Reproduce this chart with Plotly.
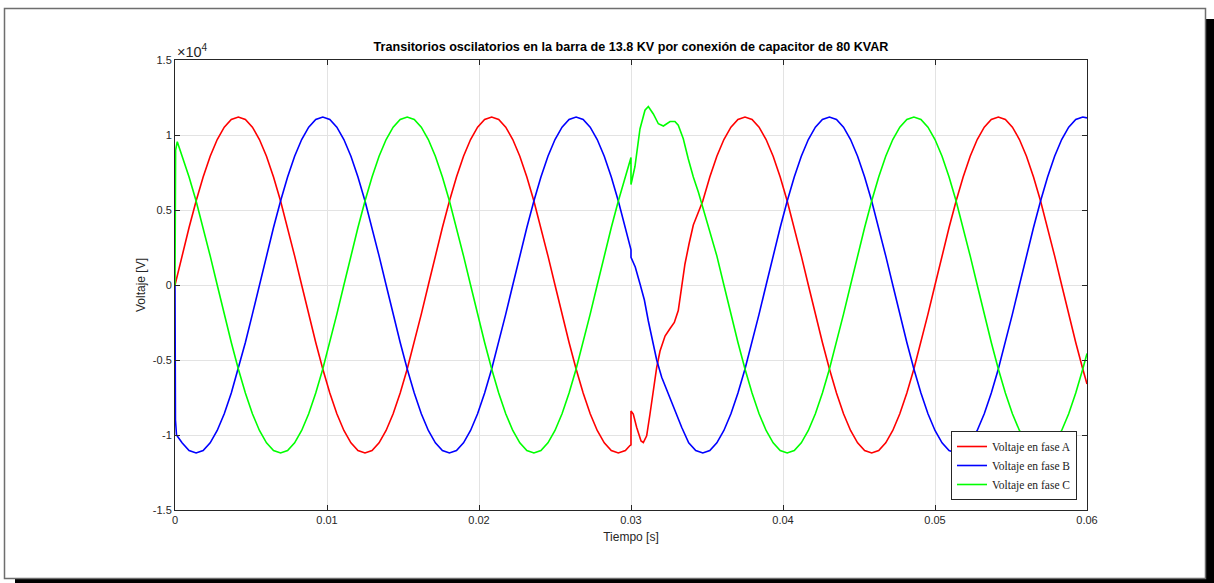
import numpy as np
import plotly.graph_objects as go

# ---------------- data (voltages in units of 10^4 V) ----------------
# sampling instants of the steady-state traces: 36 samples per 60 Hz cycle
N_SAMPLES = 130
t_grid = np.arange(N_SAMPLES) / 2160.0

vA_grid = [
    0, 0.194, 0.383, 0.56, 0.72, 0.858, 0.97, 1.052, 1.103, 1.12, 1.103, 1.052,
    0.97, 0.858, 0.72, 0.56, 0.383, 0.194, 0, -0.194, -0.383, -0.56, -0.72, -0.858,
    -0.97, -1.052, -1.103, -1.12, -1.103, -1.052, -0.97, -0.858, -0.72, -0.56, -0.383, -0.194,
    0, 0.194, 0.383, 0.56, 0.72, 0.858, 0.97, 1.052, 1.103, 1.12, 1.103, 1.052,
    0.97, 0.858, 0.72, 0.56, 0.383, 0.194, 0, -0.194, -0.383, -0.56, -0.72, -0.858,
    -0.97, -1.052, -1.103, -1.12, -1.103, -1.052, -0.97, -0.858, -0.72, -0.56, -0.383, -0.194,
    0, 0.194, 0.383, 0.56, 0.72, 0.858, 0.97, 1.052, 1.103, 1.12, 1.103, 1.052,
    0.97, 0.858, 0.72, 0.56, 0.383, 0.194, 0, -0.194, -0.383, -0.56, -0.72, -0.858,
    -0.97, -1.052, -1.103, -1.12, -1.103, -1.052, -0.97, -0.858, -0.72, -0.56, -0.383, -0.194,
    0, 0.194, 0.383, 0.56, 0.72, 0.858, 0.97, 1.052, 1.103, 1.12, 1.103, 1.052,
    0.97, 0.858, 0.72, 0.56, 0.383, 0.194, 0, -0.194, -0.383, -0.56,
]
vB_grid = [
    -0.97, -1.052, -1.103, -1.12, -1.103, -1.052, -0.97, -0.858, -0.72, -0.56, -0.383, -0.194,
    0, 0.194, 0.383, 0.56, 0.72, 0.858, 0.97, 1.052, 1.103, 1.12, 1.103, 1.052,
    0.97, 0.858, 0.72, 0.56, 0.383, 0.194, 0, -0.194, -0.383, -0.56, -0.72, -0.858,
    -0.97, -1.052, -1.103, -1.12, -1.103, -1.052, -0.97, -0.858, -0.72, -0.56, -0.383, -0.194,
    0, 0.194, 0.383, 0.56, 0.72, 0.858, 0.97, 1.052, 1.103, 1.12, 1.103, 1.052,
    0.97, 0.858, 0.72, 0.56, 0.383, 0.194, 0, -0.194, -0.383, -0.56, -0.72, -0.858,
    -0.97, -1.052, -1.103, -1.12, -1.103, -1.052, -0.97, -0.858, -0.72, -0.56, -0.383, -0.194,
    0, 0.194, 0.383, 0.56, 0.72, 0.858, 0.97, 1.052, 1.103, 1.12, 1.103, 1.052,
    0.97, 0.858, 0.72, 0.56, 0.383, 0.194, 0, -0.194, -0.383, -0.56, -0.72, -0.858,
    -0.97, -1.052, -1.103, -1.12, -1.103, -1.052, -0.97, -0.858, -0.72, -0.56, -0.383, -0.194,
    0, 0.194, 0.383, 0.56, 0.72, 0.858, 0.97, 1.052, 1.103, 1.12,
]
vC_grid = [
    0.97, 0.858, 0.72, 0.56, 0.383, 0.194, 0, -0.194, -0.383, -0.56, -0.72, -0.858,
    -0.97, -1.052, -1.103, -1.12, -1.103, -1.052, -0.97, -0.858, -0.72, -0.56, -0.383, -0.194,
    0, 0.194, 0.383, 0.56, 0.72, 0.858, 0.97, 1.052, 1.103, 1.12, 1.103, 1.052,
    0.97, 0.858, 0.72, 0.56, 0.383, 0.194, 0, -0.194, -0.383, -0.56, -0.72, -0.858,
    -0.97, -1.052, -1.103, -1.12, -1.103, -1.052, -0.97, -0.858, -0.72, -0.56, -0.383, -0.194,
    0, 0.194, 0.383, 0.56, 0.72, 0.858, 0.97, 1.052, 1.103, 1.12, 1.103, 1.052,
    0.97, 0.858, 0.72, 0.56, 0.383, 0.194, 0, -0.194, -0.383, -0.56, -0.72, -0.858,
    -0.97, -1.052, -1.103, -1.12, -1.103, -1.052, -0.97, -0.858, -0.72, -0.56, -0.383, -0.194,
    0, 0.194, 0.383, 0.56, 0.72, 0.858, 0.97, 1.052, 1.103, 1.12, 1.103, 1.052,
    0.97, 0.858, 0.72, 0.56, 0.383, 0.194, 0, -0.194, -0.383, -0.56, -0.72, -0.858,
    -0.97, -1.052, -1.103, -1.12, -1.103, -1.052, -0.97, -0.858, -0.72, -0.56,
]

# energisation transient at t = 0
tB_start = [0.0, 0.00003, 0.0001]
vB_start = [0.0, -0.9, -1.0]
tC_start = [0.0, 0.00004, 0.00015]
vC_start = [0.0, 0.9, 0.955]

# capacitor switching transient at t = 0.03 s
tA_sw = [0.02993, 0.0300, 0.0300, 0.03015, 0.030375, 0.03066, 0.03081, 0.03103, 0.03125,
         0.03147, 0.03169, 0.03191, 0.03224, 0.03257, 0.03285, 0.03311, 0.03334, 0.03355,
         0.03382, 0.03410]
vA_sw = [-1.07, -1.065, -0.84, -0.86, -0.95, -1.04, -1.05, -1.005, -0.86,
         -0.70, -0.55, -0.44, -0.34, -0.29, -0.25, -0.17, -0.015, 0.14,
         0.275, 0.40]
tB_sw = [0.02993, 0.0300, 0.0300, 0.03028, 0.03059, 0.03088, 0.03114, 0.03136, 0.03169,
         0.03202, 0.03246, 0.03289, 0.03334]
vB_sw = [0.25, 0.235, 0.185, 0.12, 0.008, -0.10, -0.24, -0.35, -0.50,
         -0.615, -0.73, -0.83, -0.95]
tC_sw = [0.02993, 0.0300, 0.0300, 0.03026, 0.03059, 0.03092, 0.03114, 0.03147, 0.0318,
         0.03213, 0.03257, 0.03289, 0.03311, 0.03344, 0.03377, 0.0341, 0.03443, 0.03469,
         0.03542]
vC_sw = [0.83, 0.85, 0.67, 0.79, 1.04, 1.165, 1.19, 1.14, 1.075,
         1.06, 1.09, 1.09, 1.065, 0.975, 0.84, 0.72, 0.62, 0.53,
         0.27]

# final sample at t = 0.06 s
t_final = 0.06
vA_final, vB_final, vC_final = -0.66, 1.114, -0.456

series_names = ["Voltaje en fase A", "Voltaje en fase B", "Voltaje en fase C"]
series_colors = ["#ff0000", "#0000ff", "#00ff00"]

x_tickvals = [0, 0.01, 0.02, 0.03, 0.04, 0.05, 0.06]
x_ticktext = ["0", "0.01", "0.02", "0.03", "0.04", "0.05", "0.06"]
y_tickvals = [-1.5, -1, -0.5, 0, 0.5, 1, 1.5]
y_ticktext = ["-1.5", "-1", "-0.5", "0", "0.5", "1", "1.5"]

title_text = "Transitorios oscilatorios en la barra de 13.8 KV por conexión de capacitor de 80 KVAR"


def assemble(grid_v, segments, final_v):
    windows = [(ts[0], ts[-1] + 0.0002) for ts, _ in segments]
    pts = []
    for t, v in zip(t_grid, grid_v):
        if any(lo - 1e-9 <= t <= hi for lo, hi in windows):
            continue
        pts.append((float(t), v))
    for ts, vs in segments:
        pts.extend(zip(ts, vs))
    pts.append((t_final, final_v))
    pts.sort(key=lambda p: p[0])
    return [p[0] for p in pts], [p[1] for p in pts]


tA, vA = assemble(vA_grid, [(tA_sw, vA_sw)], vA_final)
tB, vB = assemble(vB_grid, [(tB_start, vB_start), (tB_sw, vB_sw)], vB_final)
tC, vC = assemble(vC_grid, [(tC_start, vC_start), (tC_sw, vC_sw)], vC_final)

fig = go.Figure()
for (tx, vy), name, col in zip([(tA, vA), (tB, vB), (tC, vC)], series_names, series_colors):
    fig.add_trace(go.Scatter(x=tx, y=vy, mode="lines", name=name,
                             line=dict(color=col, width=1.6)))

AX = "#262626"
W, H = 1214, 583
ML, MR, MT, MB = 175, 127, 60, 73
PW, PH = W - ML - MR, H - MT - MB


def px2paper_x(px):
    return (px - ML) / PW


def px2paper_y(py):
    return (H - MB - py) / PH


shapes = [
    # drop shadow of the figure frame
    dict(type="rect", xref="paper", yref="paper", layer="below",
         x0=px2paper_x(15), x1=px2paper_x(1230), y0=px2paper_y(600), y1=px2paper_y(19),
         fillcolor="#000000", line=dict(width=0)),
    # white frame
    dict(type="rect", xref="paper", yref="paper", layer="below",
         x0=px2paper_x(4.5), x1=px2paper_x(1205.5), y0=px2paper_y(578.5), y1=px2paper_y(8.5),
         fillcolor="#ffffff", line=dict(color="#6e6e6e", width=1.5)),
]

fig.update_layout(
    width=W, height=H, autosize=False,
    margin=dict(l=ML, r=MR, t=MT, b=MB, pad=0),
    paper_bgcolor="#ffffff", plot_bgcolor="rgba(0,0,0,0)",
    font=dict(family="Liberation Sans, Arial, sans-serif", size=11, color=AX),
    title=dict(text="<b>" + title_text + "</b>", x=0.5, xref="paper",
               y=(H - 47) / H, yref="container", yanchor="middle", xanchor="center",
               font=dict(size=12.6, color="#000000")),
    shapes=shapes,
    showlegend=True,
    legend=dict(x=px2paper_x(1077), y=px2paper_y(500), xanchor="right", yanchor="bottom",
                bgcolor="#ffffff", bordercolor=AX, borderwidth=1,
                font=dict(family="Liberation Serif, Times New Roman, serif", size=11.5, color="#222222"),
                itemwidth=30, tracegroupgap=0),
    xaxis=dict(range=[0, 0.06], tickvals=x_tickvals, ticktext=x_ticktext,
               showgrid=True, gridcolor="#e3e3e3", gridwidth=1, zeroline=False,
               showline=True, linecolor=AX, linewidth=1, mirror="ticks",
               ticks="inside", ticklen=5, tickcolor=AX, tickwidth=1,
               tickfont=dict(size=11, color=AX),
               title=dict(text="Tiempo [s]", standoff=7, font=dict(size=12, color=AX))),
    yaxis=dict(range=[-1.5, 1.5], tickvals=y_tickvals, ticktext=y_ticktext,
               showgrid=True, gridcolor="#e3e3e3", gridwidth=1, zeroline=False,
               showline=True, linecolor=AX, linewidth=1, mirror="ticks",
               ticks="inside", ticklen=5, tickcolor=AX, tickwidth=1,
               tickfont=dict(size=11, color=AX),
               title=dict(text="Voltaje [V]", standoff=4, font=dict(size=12, color=AX))),
    annotations=[
        dict(text="×10<sup>4</sup>", xref="paper", yref="paper", x=0.0, y=1.0,
             xanchor="left", yanchor="bottom", showarrow=False, xshift=0, yshift=-2,
             font=dict(size=14.5, color=AX)),
    ],
)

fig.write_html("out.html")
